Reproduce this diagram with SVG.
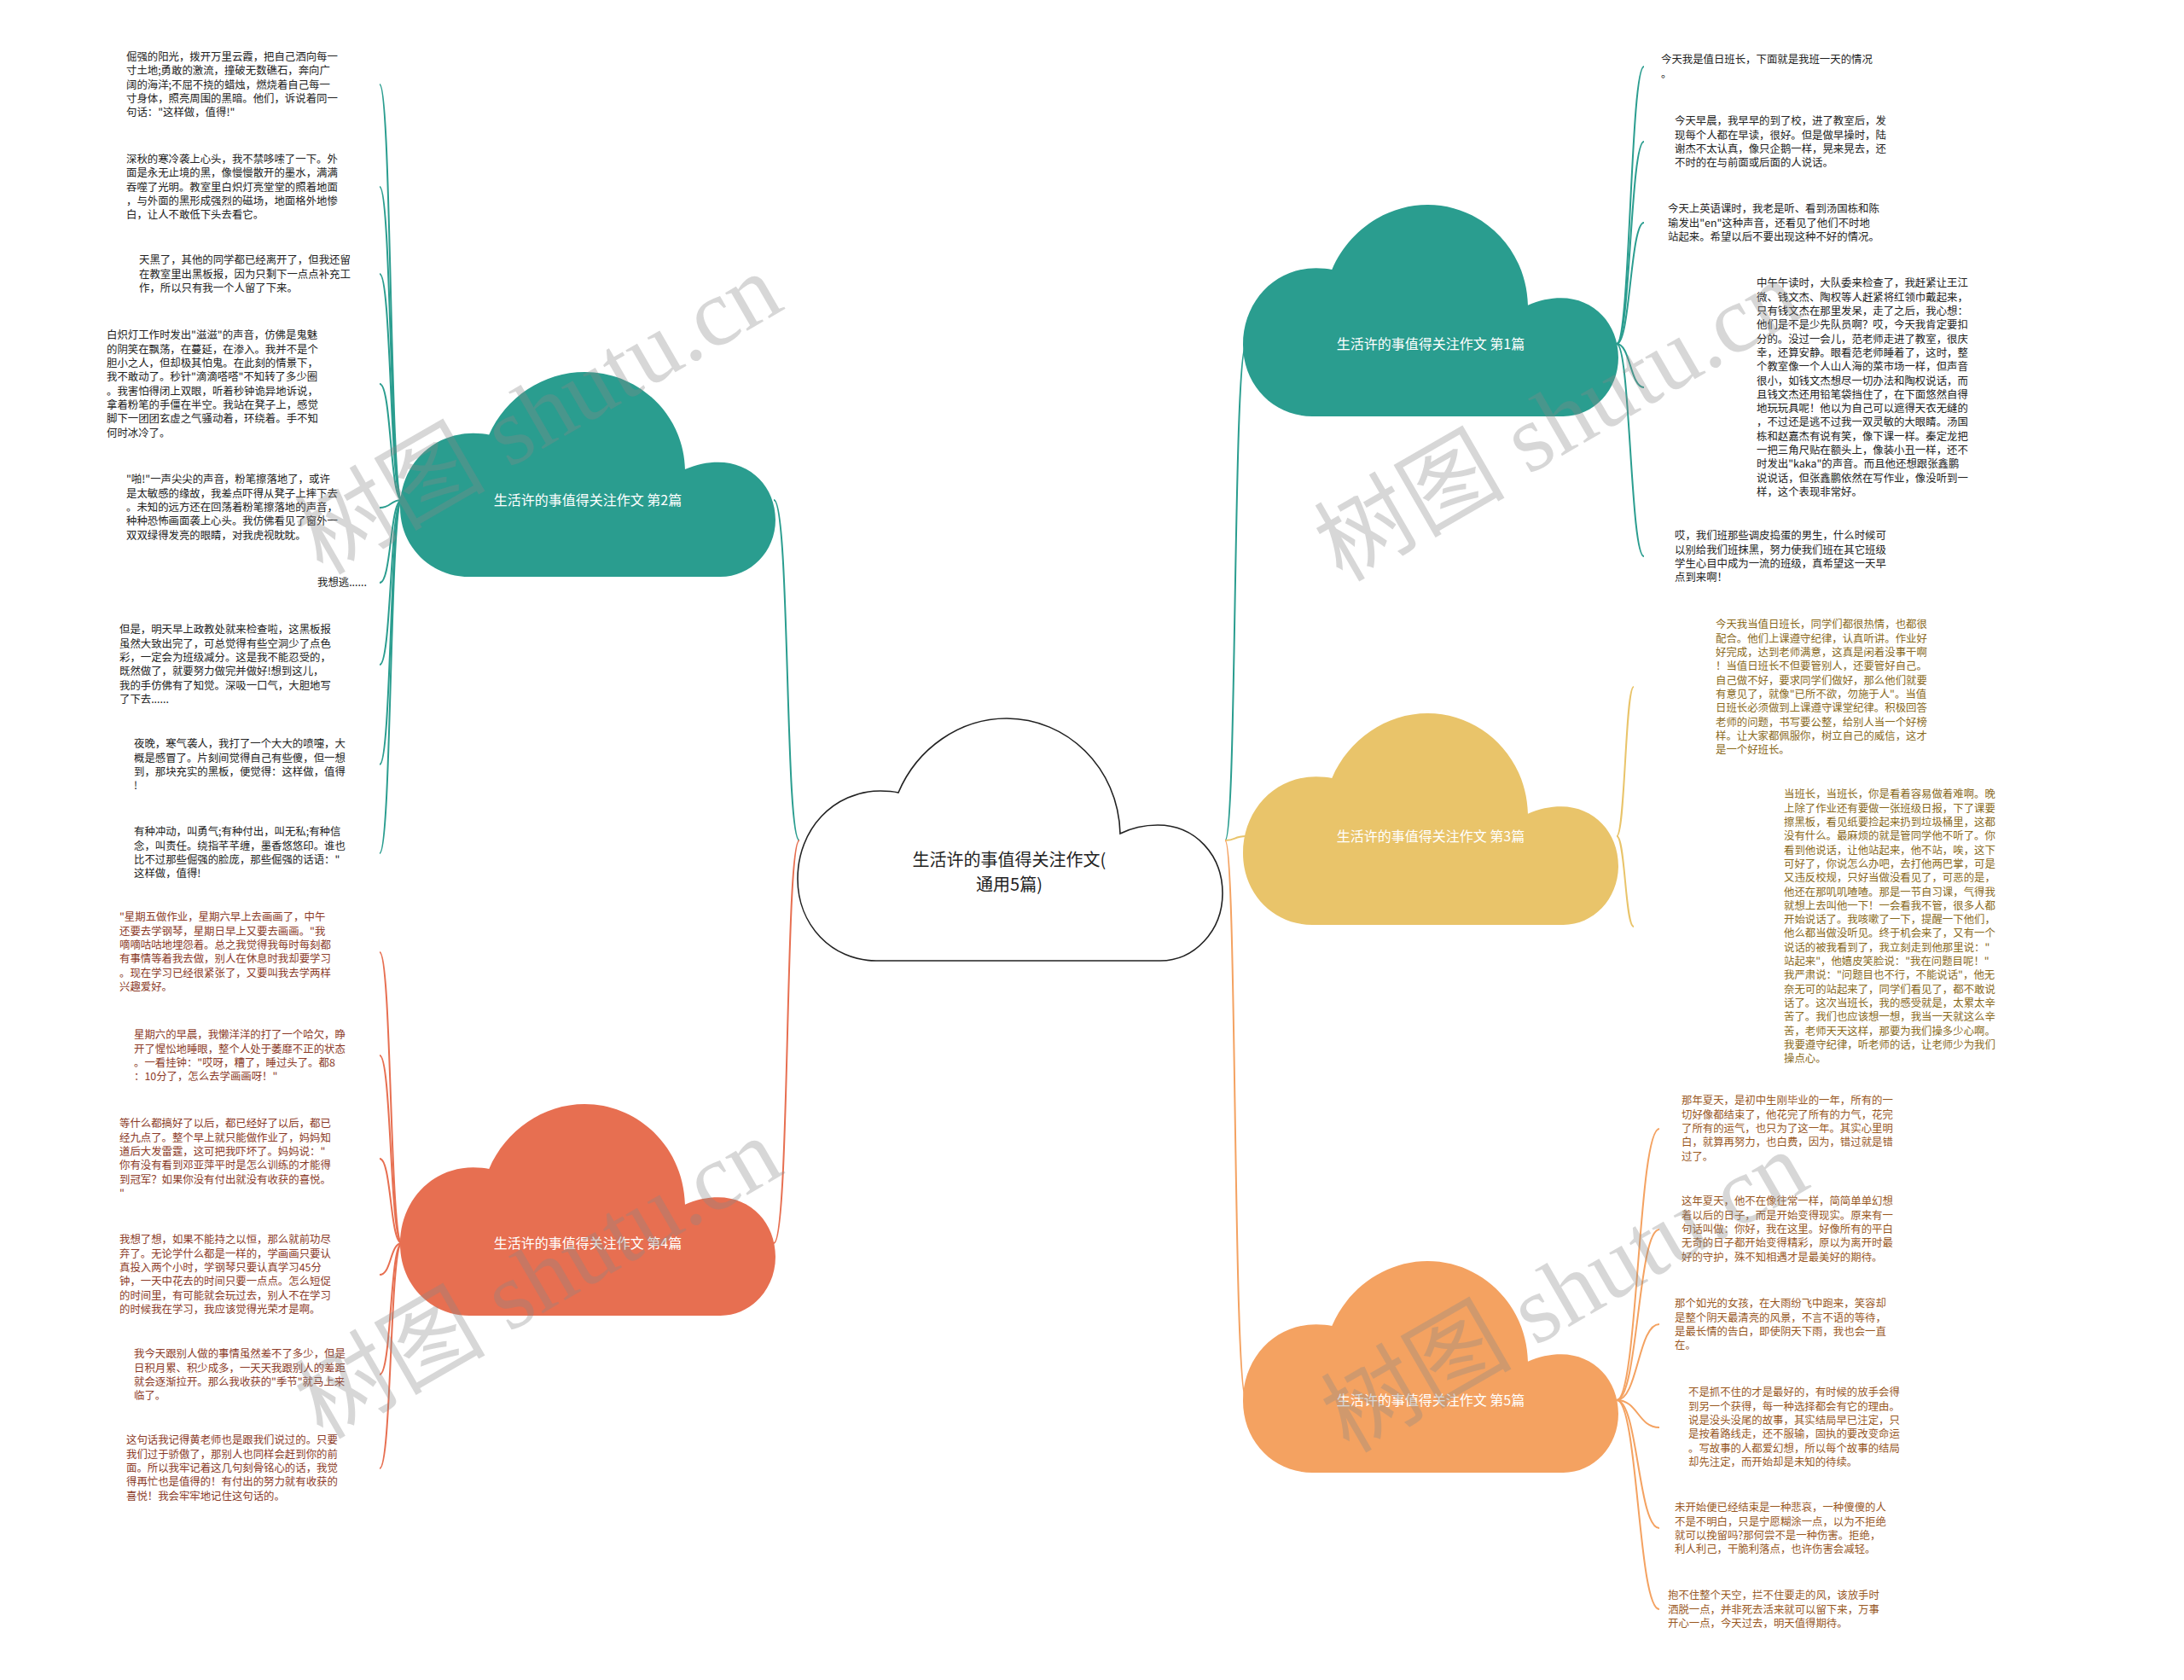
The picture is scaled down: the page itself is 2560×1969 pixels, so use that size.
<svg xmlns="http://www.w3.org/2000/svg" width="2560" height="1969" viewBox="0 0 2560 1969">
<style>
.lt{font-family:"Noto Sans CJK SC","Liberation Sans",sans-serif;font-size:12.4px}
.k{fill:#222}
.r{fill:#8c3b28}
.y{fill:#8a6a1c}
.o{fill:#99581f}
.ct{font-family:"Noto Sans CJK SC","Liberation Sans",sans-serif;font-size:16px;fill:#fff;text-anchor:middle}
.mt{font-family:"Noto Sans CJK SC","Liberation Sans",sans-serif;font-size:20px;fill:#222;text-anchor:middle}
.conn path{fill:none;stroke-width:2}
.wm{font-family:"Liberation Serif","Noto Sans CJK SC",serif;font-size:112px;fill:#888;opacity:.33;text-anchor:middle}
</style>
<defs>
<path id="cloud" d="M92,284 C40,284 0,242 0,188 C0,130 42,85 97,85 Q110,85 118,87 C140,35 190,0 245,0 C315,0 376,57 378,135 C392,128 408,125 422,125 C466,125 498,160 498,205 C498,249 465,284 425,284 Z"/>
</defs>
<rect width="2560" height="1969" fill="#fff"/>
<g id="connectors" class="conn">
<path stroke="#2a9d8f" d="M937,985 C920,985 926,586 907,586"/>
<path stroke="#e76f51" d="M937,985 C920,985 926,1457 907,1457"/>
<path stroke="#2a9d8f" d="M1436,985 C1450,985 1445,403 1461,403"/>
<path stroke="#e9c46a" d="M1436,985 C1450,985 1445,980 1461,980"/>
<path stroke="#f4a261" d="M1436,985 C1450,985 1445,1641 1461,1641"/>
<g stroke="#2a9d8f">
<path d="M471,586 C457,586 459,99 445,99"/>
<path d="M471,586 C457,586 459,219 445,219"/>
<path d="M471,586 C457,586 459,321 445,321"/>
<path d="M471,586 C457,586 459,450 445,450"/>
<path d="M471,586 C457,586 459,595 445,595"/>
<path d="M471,586 C457,586 459,683 445,683"/>
<path d="M471,586 C457,586 459,779 445,779"/>
<path d="M471,586 C457,586 459,896 445,896"/>
<path d="M471,586 C457,586 459,1000 445,1000"/>
</g>
<g stroke="#e76f51">
<path d="M471,1457 C457,1457 459,1116 445,1116"/>
<path d="M471,1457 C457,1457 459,1237 445,1237"/>
<path d="M471,1457 C457,1457 459,1358 445,1358"/>
<path d="M471,1457 C457,1457 459,1494 445,1494"/>
<path d="M471,1457 C457,1457 459,1611 445,1611"/>
<path d="M471,1457 C457,1457 459,1721 445,1721"/>
</g>
<g stroke="#2a9d8f">
<path d="M1895,403 C1911,403 1911,78 1927,78"/>
<path d="M1895,403 C1911,403 1911,166 1927,166"/>
<path d="M1895,403 C1911,403 1911,261 1927,261"/>
<path d="M1895,403 C1911,403 1911,454 1927,454"/>
<path d="M1895,403 C1911,403 1911,652 1927,652"/>
</g>
<g stroke="#e9c46a">
<path d="M1895,980 C1905,980 1905,805 1915,805"/>
<path d="M1895,980 C1905,980 1905,1086 1915,1086"/>
</g>
<g stroke="#f4a261">
<path d="M1895,1641 C1920,1641 1920,1323 1945,1323"/>
<path d="M1895,1641 C1920,1641 1920,1441 1945,1441"/>
<path d="M1895,1641 C1920,1641 1920,1552 1945,1552"/>
<path d="M1895,1641 C1920,1641 1920,1673 1945,1673"/>
<path d="M1895,1641 C1920,1641 1920,1791 1945,1791"/>
<path d="M1895,1641 C1920,1641 1920,1886 1945,1886"/>
</g>
</g>
<g id="main">
<use href="#cloud" transform="translate(935,842)" fill="#fff" stroke="#222" stroke-width="1.6"/>
<text class="mt" x="1183" y="1015">生活许的事值得关注作文(</text>
<text class="mt" x="1183" y="1044">通用5篇)</text>
</g>
<g id="b1">
<use href="#cloud" transform="translate(1457,240) scale(0.8835,0.873)" fill="#2a9d8f"/>
<text class="ct" x="1677" y="409">生活许的事值得关注作文 第1篇</text>
</g>
<g id="b3">
<use href="#cloud" transform="translate(1457,836) scale(0.8835,0.873)" fill="#e9c46a"/>
<text class="ct" x="1677" y="986">生活许的事值得关注作文 第3篇</text>
</g>
<g id="b5">
<use href="#cloud" transform="translate(1457,1478) scale(0.8835,0.873)" fill="#f4a261"/>
<text class="ct" x="1677" y="1647">生活许的事值得关注作文 第5篇</text>
</g>
<g id="b2">
<use href="#cloud" transform="translate(469,436) scale(0.8835,0.845)" fill="#2a9d8f"/>
<text class="ct" x="689" y="592">生活许的事值得关注作文 第2篇</text>
</g>
<g id="b4">
<use href="#cloud" transform="translate(469,1294) scale(0.8835,0.873)" fill="#e76f51"/>
<text class="ct" x="689" y="1463">生活许的事值得关注作文 第4篇</text>
</g>
<g id="l2-1"><text class="lt k" y="71.1"><tspan x="148">倔强的阳光，拨开万里云霞，把自己洒向每一</tspan><tspan x="148" dy="16.3">寸土地;勇敢的激流，撞破无数礁石，奔向广</tspan><tspan x="148" dy="16.3">阔的海洋;不屈不挠的蜡烛，燃烧着自己每一</tspan><tspan x="148" dy="16.3">寸身体，照亮周围的黑暗。他们，诉说着同一</tspan><tspan x="148" dy="16.3">句话："这样做，值得!"</tspan></text></g>
<g id="l2-2"><text class="lt k" y="191.1"><tspan x="148">深秋的寒冷袭上心头，我不禁哆嗦了一下。外</tspan><tspan x="148" dy="16.3">面是永无止境的黑，像慢慢散开的墨水，满满</tspan><tspan x="148" dy="16.3">吞噬了光明。教室里白炽灯亮堂堂的照着地面</tspan><tspan x="148" dy="16.3">，与外面的黑形成强烈的磁场，地面格外地惨</tspan><tspan x="148" dy="16.3">白，让人不敢低下头去看它。</tspan></text></g>
<g id="l2-3"><text class="lt k" y="309.4"><tspan x="163">天黑了，其他的同学都已经离开了，但我还留</tspan><tspan x="163" dy="16.3">在教室里出黑板报，因为只剩下一点点补充工</tspan><tspan x="163" dy="16.3">作，所以只有我一个人留了下来。</tspan></text></g>
<g id="l2-4"><text class="lt k" y="397.4"><tspan x="125">白炽灯工作时发出"滋滋"的声音，仿佛是鬼魅</tspan><tspan x="125" dy="16.3">的阴笑在飘荡，在蔓延，在渗入。我并不是个</tspan><tspan x="125" dy="16.3">胆小之人，但却极其怕鬼。在此刻的情景下，</tspan><tspan x="125" dy="16.3">我不敢动了。秒针"滴滴嗒嗒"不知转了多少圈</tspan><tspan x="125" dy="16.3">。我害怕得闭上双眼，听着秒钟诡异地诉说，</tspan><tspan x="125" dy="16.3">拿着粉笔的手僵在半空。我站在凳子上，感觉</tspan><tspan x="125" dy="16.3">脚下一团团玄虚之气骚动着，环绕着。手不知</tspan><tspan x="125" dy="16.3">何时冰冷了。</tspan></text></g>
<g id="l2-5"><text class="lt k" y="566.4"><tspan x="148">"啪!"一声尖尖的声音，粉笔擦落地了，或许</tspan><tspan x="148" dy="16.3">是太敏感的缘故，我差点吓得从凳子上摔下去</tspan><tspan x="148" dy="16.3">。未知的远方还在回荡着粉笔擦落地的声音，</tspan><tspan x="148" dy="16.3">种种恐怖画面袭上心头。我仿佛看见了窗外一</tspan><tspan x="148" dy="16.3">双双绿得发亮的眼睛，对我虎视眈眈。</tspan></text></g>
<g id="l2-6"><text class="lt k" x="372" y="687.4">我想逃......</text></g>
<g id="l2-7"><text class="lt k" y="742.4"><tspan x="140">但是，明天早上政教处就来检查啦，这黑板报</tspan><tspan x="140" dy="16.3">虽然大致出完了，可总觉得有些空洞少了点色</tspan><tspan x="140" dy="16.3">彩，一定会为班级减分。这是我不能忍受的，</tspan><tspan x="140" dy="16.3">既然做了，就要努力做完并做好!想到这儿，</tspan><tspan x="140" dy="16.3">我的手仿佛有了知觉。深吸一口气，大胆地写</tspan><tspan x="140" dy="16.3">了下去......</tspan></text></g>
<g id="l2-8"><text class="lt k" y="876.4"><tspan x="157">夜晚，寒气袭人，我打了一个大大的喷嚏，大</tspan><tspan x="157" dy="16.3">概是感冒了。片刻间觉得自己有些傻，但一想</tspan><tspan x="157" dy="16.3">到，那块充实的黑板，便觉得：这样做，值得</tspan><tspan x="157" dy="16.3">!</tspan></text></g>
<g id="l2-9"><text class="lt k" y="979.4"><tspan x="157">有种冲动，叫勇气;有种付出，叫无私;有种信</tspan><tspan x="157" dy="16.3">念，叫责任。绕指芊芊缠，墨香悠悠印。谁也</tspan><tspan x="157" dy="16.3">比不过那些倔强的脸庞，那些倔强的话语："</tspan><tspan x="157" dy="16.3">这样做，值得!</tspan></text></g>
<g id="l4-1"><text class="lt r" y="1079.4"><tspan x="140">"星期五做作业，星期六早上去画画了，中午</tspan><tspan x="140" dy="16.3">还要去学钢琴，星期日早上又要去画画。"我</tspan><tspan x="140" dy="16.3">嘀嘀咕咕地埋怨着。总之我觉得我每时每刻都</tspan><tspan x="140" dy="16.3">有事情等着我去做，别人在休息时我却要学习</tspan><tspan x="140" dy="16.3">。现在学习已经很紧张了，又要叫我去学两样</tspan><tspan x="140" dy="16.3">兴趣爱好。</tspan></text></g>
<g id="l4-2"><text class="lt r" y="1217.4"><tspan x="157">星期六的早晨，我懒洋洋的打了一个哈欠，睁</tspan><tspan x="157" dy="16.3">开了惺忪地睡眼，整个人处于萎靡不正的状态</tspan><tspan x="157" dy="16.3">。一看挂钟："哎呀，糟了，睡过头了。都8</tspan><tspan x="157" dy="16.3">：10分了，怎么去学画画呀！"</tspan></text></g>
<g id="l4-3"><text class="lt r" y="1321.4"><tspan x="140">等什么都搞好了以后，都已经好了以后，都已</tspan><tspan x="140" dy="16.3">经九点了。整个早上就只能做作业了，妈妈知</tspan><tspan x="140" dy="16.3">道后大发雷霆，这可把我吓坏了。妈妈说："</tspan><tspan x="140" dy="16.3">你有没有看到邓亚萍平时是怎么训练的才能得</tspan><tspan x="140" dy="16.3">到冠军？如果你没有付出就没有收获的喜悦。</tspan><tspan x="140" dy="16.3">"</tspan></text></g>
<g id="l4-4"><text class="lt r" y="1457.4"><tspan x="140">我想了想，如果不能持之以恒，那么就前功尽</tspan><tspan x="140" dy="16.3">弃了。无论学什么都是一样的，学画画只要认</tspan><tspan x="140" dy="16.3">真投入两个小时，学钢琴只要认真学习45分</tspan><tspan x="140" dy="16.3">钟，一天中花去的时间只要一点点。怎么短促</tspan><tspan x="140" dy="16.3">的时间里，有可能就会玩过去，别人不在学习</tspan><tspan x="140" dy="16.3">的时候我在学习，我应该觉得光荣才是啊。</tspan></text></g>
<g id="l4-5"><text class="lt r" y="1591.4"><tspan x="157">我今天跟别人做的事情虽然差不了多少，但是</tspan><tspan x="157" dy="16.3">日积月累、积少成多，一天天我跟别人的差距</tspan><tspan x="157" dy="16.3">就会逐渐拉开。那么我收获的"季节"就马上来</tspan><tspan x="157" dy="16.3">临了。</tspan></text></g>
<g id="l4-6"><text class="lt r" y="1692.4"><tspan x="148">这句话我记得黄老师也是跟我们说过的。只要</tspan><tspan x="148" dy="16.3">我们过于骄傲了，那别人也同样会赶到你的前</tspan><tspan x="148" dy="16.3">面。所以我牢记着这几句刻骨铭心的话，我觉</tspan><tspan x="148" dy="16.3">得再忙也是值得的！有付出的努力就有收获的</tspan><tspan x="148" dy="16.3">喜悦！我会牢牢地记住这句话的。</tspan></text></g>
<g id="l1-1"><text class="lt k" y="74.4"><tspan x="1947">今天我是值日班长，下面就是我班一天的情况</tspan><tspan x="1947" dy="16.3">。</tspan></text></g>
<g id="l1-2"><text class="lt k" y="146.4"><tspan x="1963">今天早晨，我早早的到了校，进了教室后，发</tspan><tspan x="1963" dy="16.3">现每个人都在早读，很好。但是做早操时，陆</tspan><tspan x="1963" dy="16.3">谢杰不太认真，像只企鹅一样，晃来晃去，还</tspan><tspan x="1963" dy="16.3">不时的在与前面或后面的人说话。</tspan></text></g>
<g id="l1-3"><text class="lt k" y="249.4"><tspan x="1955">今天上英语课时，我老是听、看到汤国栋和陈</tspan><tspan x="1955" dy="16.3">瑜发出"en"这种声音，还看见了他们不时地</tspan><tspan x="1955" dy="16.3">站起来。希望以后不要出现这种不好的情况。</tspan></text></g>
<g id="l1-4"><text class="lt k" y="336.4"><tspan x="2059">中午午读时，大队委来检查了，我赶紧让王江</tspan><tspan x="2059" dy="16.3">微、钱文杰、陶权等人赶紧将红领巾戴起来，</tspan><tspan x="2059" dy="16.3">只有钱文杰在那里发呆，走了之后，我心想：</tspan><tspan x="2059" dy="16.3">他们是不是少先队员啊？哎，今天我肯定要扣</tspan><tspan x="2059" dy="16.3">分的。没过一会儿，范老师走进了教室，很庆</tspan><tspan x="2059" dy="16.3">幸，还算安静。眼看范老师睡着了，这时，整</tspan><tspan x="2059" dy="16.3">个教室像一个人山人海的菜市场一样，但声音</tspan><tspan x="2059" dy="16.3">很小，如钱文杰想尽一切办法和陶权说话，而</tspan><tspan x="2059" dy="16.3">且钱文杰还用铅笔袋挡住了，在下面悠然自得</tspan><tspan x="2059" dy="16.3">地玩玩具呢！他以为自己可以遮得天衣无缝的</tspan><tspan x="2059" dy="16.3">，不过还是逃不过我一双灵敏的大眼睛。汤国</tspan><tspan x="2059" dy="16.3">栋和赵嘉杰有说有笑，像下课一样。秦定龙把</tspan><tspan x="2059" dy="16.3">一把三角尺贴在额头上，像装小丑一样，还不</tspan><tspan x="2059" dy="16.3">时发出"kaka"的声音。而且他还想跟张鑫鹏</tspan><tspan x="2059" dy="16.3">说说话，但张鑫鹏依然在写作业，像没听到一</tspan><tspan x="2059" dy="16.3">样，这个表现非常好。</tspan></text></g>
<g id="l1-5"><text class="lt k" y="632.4"><tspan x="1963">哎，我们班那些调皮捣蛋的男生，什么时候可</tspan><tspan x="1963" dy="16.3">以别给我们班抹黑，努力使我们班在其它班级</tspan><tspan x="1963" dy="16.3">学生心目中成为一流的班级，真希望这一天早</tspan><tspan x="1963" dy="16.3">点到来啊！</tspan></text></g>
<g id="l3-1"><text class="lt y" y="736.4"><tspan x="2011">今天我当值日班长，同学们都很热情，也都很</tspan><tspan x="2011" dy="16.3">配合。他们上课遵守纪律，认真听讲。作业好</tspan><tspan x="2011" dy="16.3">好完成，达到老师满意，这真是闲着没事干啊</tspan><tspan x="2011" dy="16.3">！当值日班长不但要管别人，还要管好自己。</tspan><tspan x="2011" dy="16.3">自己做不好，要求同学们做好，那么他们就要</tspan><tspan x="2011" dy="16.3">有意见了，就像"已所不欲，勿施于人"。当值</tspan><tspan x="2011" dy="16.3">日班长必须做到上课遵守课堂纪律。积极回答</tspan><tspan x="2011" dy="16.3">老师的问题，书写要公整，给别人当一个好榜</tspan><tspan x="2011" dy="16.3">样。让大家都佩服你，树立自己的威信，这才</tspan><tspan x="2011" dy="16.3">是一个好班长。</tspan></text></g>
<g id="l3-2"><text class="lt y" y="935.4"><tspan x="2091">当班长，当班长，你是看着容易做着难啊。晚</tspan><tspan x="2091" dy="16.3">上除了作业还有要做一张班级日报，下了课要</tspan><tspan x="2091" dy="16.3">擦黑板，看见纸要捡起来扔到垃圾桶里，这都</tspan><tspan x="2091" dy="16.3">没有什么。最麻烦的就是管同学他不听了。你</tspan><tspan x="2091" dy="16.3">看到他说话，让他站起来，他不站，唉，这下</tspan><tspan x="2091" dy="16.3">可好了，你说怎么办吧，去打他两巴掌，可是</tspan><tspan x="2091" dy="16.3">又违反校规，只好当做没看见了，可恶的是，</tspan><tspan x="2091" dy="16.3">他还在那叽叽喳喳。那是一节自习课，气得我</tspan><tspan x="2091" dy="16.3">就想上去叫他一下！一会看我不管，很多人都</tspan><tspan x="2091" dy="16.3">开始说话了。我咳嗽了一下，提醒一下他们，</tspan><tspan x="2091" dy="16.3">他么都当做没听见。终于机会来了，又有一个</tspan><tspan x="2091" dy="16.3">说话的被我看到了，我立刻走到他那里说："</tspan><tspan x="2091" dy="16.3">站起来"，他嬉皮笑脸说："我在问题目呢！"</tspan><tspan x="2091" dy="16.3">我严肃说："问题目也不行，不能说话"，他无</tspan><tspan x="2091" dy="16.3">奈无可的站起来了，同学们看见了，都不敢说</tspan><tspan x="2091" dy="16.3">话了。这次当班长，我的感受就是，太累太辛</tspan><tspan x="2091" dy="16.3">苦了。我们也应该想一想，我当一天就这么辛</tspan><tspan x="2091" dy="16.3">苦，老师天天这样，那要为我们操多少心啊。</tspan><tspan x="2091" dy="16.3">我要遵守纪律，听老师的话，让老师少为我们</tspan><tspan x="2091" dy="16.3">操点心。</tspan></text></g>
<g id="l5-1"><text class="lt o" y="1294.4"><tspan x="1971">那年夏天，是初中生刚毕业的一年，所有的一</tspan><tspan x="1971" dy="16.3">切好像都结束了，他花完了所有的力气，花完</tspan><tspan x="1971" dy="16.3">了所有的运气，也只为了这一年。其实心里明</tspan><tspan x="1971" dy="16.3">白，就算再努力，也白费，因为，错过就是错</tspan><tspan x="1971" dy="16.3">过了。</tspan></text></g>
<g id="l5-2"><text class="lt o" y="1412.4"><tspan x="1971">这年夏天，他不在像往常一样，简简单单幻想</tspan><tspan x="1971" dy="16.3">着以后的日子，而是开始变得现实。原来有一</tspan><tspan x="1971" dy="16.3">句话叫做：你好，我在这里。好像所有的平白</tspan><tspan x="1971" dy="16.3">无奇的日子都开始变得精彩，原以为离开时最</tspan><tspan x="1971" dy="16.3">好的守护，殊不知相遇才是最美好的期待。</tspan></text></g>
<g id="l5-3"><text class="lt o" y="1532.4"><tspan x="1963">那个如光的女孩，在大雨纷飞中跑来，笑容却</tspan><tspan x="1963" dy="16.3">是整个阴天最清亮的风景，不言不语的等待，</tspan><tspan x="1963" dy="16.3">是最长情的告白，即使阴天下雨，我也会一直</tspan><tspan x="1963" dy="16.3">在。</tspan></text></g>
<g id="l5-4"><text class="lt o" y="1636.4"><tspan x="1979">不是抓不住的才是最好的，有时候的放手会得</tspan><tspan x="1979" dy="16.3">到另一个获得，每一种选择都会有它的理由。</tspan><tspan x="1979" dy="16.3">说是没头没尾的故事，其实结局早已注定，只</tspan><tspan x="1979" dy="16.3">是按着路线走，还不服输，固执的要改变命运</tspan><tspan x="1979" dy="16.3">。写故事的人都爱幻想，所以每个故事的结局</tspan><tspan x="1979" dy="16.3">却先注定，而开始却是未知的待续。</tspan></text></g>
<g id="l5-5"><text class="lt o" y="1771.4"><tspan x="1963">未开始便已经结束是一种悲哀，一种傻傻的人</tspan><tspan x="1963" dy="16.3">不是不明白，只是宁愿糊涂一点，以为不拒绝</tspan><tspan x="1963" dy="16.3">就可以挽留吗?那何尝不是一种伤害。拒绝，</tspan><tspan x="1963" dy="16.3">利人利己，干脆利落点，也许伤害会减轻。</tspan></text></g>
<g id="l5-6"><text class="lt o" y="1874.4"><tspan x="1955">抱不住整个天空，拦不住要走的风，该放手时</tspan><tspan x="1955" dy="16.3">洒脱一点，并非死去活来就可以留下来，万事</tspan><tspan x="1955" dy="16.3">开心一点，今天过去，明天值得期待。</tspan></text></g>
<g id="watermark">
<text class="wm" transform="translate(650,518) rotate(-30)">树图 shutu.cn</text>
<text class="wm" transform="translate(1845,526) rotate(-30)">树图 shutu.cn</text>
<text class="wm" transform="translate(650,1531) rotate(-30)">树图 shutu.cn</text>
<text class="wm" transform="translate(1853,1547) rotate(-30)">树图 shutu.cn</text>
</g>
</svg>
